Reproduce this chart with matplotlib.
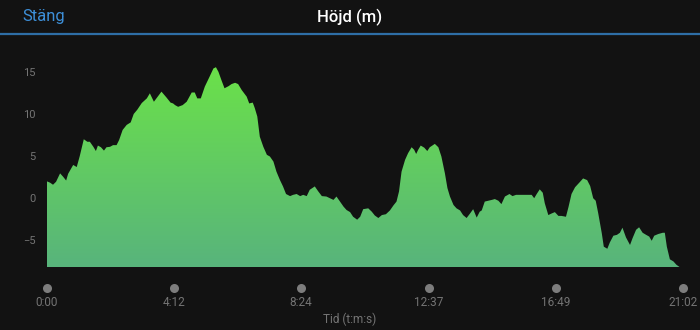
import matplotlib.pyplot as plt
import numpy as np
from matplotlib.colors import LinearSegmentedColormap
from matplotlib.lines import Line2D
import matplotlib.transforms as mtransforms

# hoehenprofil, zeit in sekunden, hoehe in metern
time_s = [0, 6, 12, 18, 26, 32, 38, 42, 52, 59, 65, 73, 80, 85, 92, 97, 101, 107,
          113, 118, 125, 131, 138, 143, 150, 158, 166, 172, 179, 188, 198, 204,
          212, 217, 227, 237, 245, 250, 254, 260, 269, 277, 287, 293, 298, 305,
          313, 323, 330, 335, 340, 346, 352, 360, 366, 373, 379, 386, 396, 401,
          408, 412, 417, 422, 429, 436, 442, 449, 455, 462, 468, 474, 482, 488,
          495, 502, 508, 515, 521, 531, 538, 545, 554, 561, 568, 574, 581, 588,
          594, 601, 607, 615, 621, 627, 637, 644, 650, 657, 664, 672, 680, 687,
          693, 698, 703, 710, 716, 723, 728, 732, 736, 741, 748, 754, 759, 769,
          776, 782, 789, 794, 799, 806, 812, 819, 825, 832, 839, 845, 852, 858,
          862, 868, 875, 882, 888, 895, 901, 908, 917, 923, 930, 938, 954, 961,
          966, 971, 977, 983, 987, 994, 1001, 1007, 1014, 1020, 1029, 1034, 1040,
          1047, 1057, 1063, 1071, 1077, 1083, 1088, 1093, 1100, 1104, 1111, 1116,
          1123, 1130, 1136, 1141, 1148, 1156, 1161, 1168, 1174, 1181, 1188, 1194,
          1199, 1204, 1212, 1221, 1225, 1229, 1235, 1242, 1248, 1255, 1262]
elev_m = [2.0, 1.85, 1.6, 1.95, 2.95, 2.55, 2.1, 2.9, 3.95, 3.7, 5.0, 7.0, 6.7, 6.7,
          6.1, 5.6, 6.25, 6.05, 5.65, 6.05, 6.1, 6.3, 6.3, 6.9, 8.1, 8.7, 9.0, 10.0,
          10.5, 11.3, 11.85, 12.45, 11.45, 11.85, 12.65, 11.95, 11.35, 11.25, 11.05,
          10.85, 11.05, 11.45, 12.55, 12.55, 11.85, 11.85, 13.25, 14.5, 15.4, 15.55,
          15.0, 14.0, 13.05, 13.3, 13.55, 13.7, 13.55, 12.85, 12.05, 11.25, 11.35,
          10.7, 9.7, 7.3, 6.1, 5.15, 4.95, 4.35, 3.15, 2.15, 1.4, 0.5, 0.25, 0.4, 0.5,
          0.25, 0.4, 0.25, 1.0, 1.4, 0.8, 0.25, 0.2, 0.0, -0.2, 0.2, -0.4, -1.0, -1.4,
          -1.65, -2.2, -2.55, -2.2, -1.3, -1.2, -1.6, -2.05, -2.35, -2.0, -1.9, -1.45,
          -0.85, -0.4, 0.8, 3.15, 4.55, 5.35, 6.05, 5.75, 5.25, 5.75, 6.25, 6.0, 5.6,
          6.05, 6.45, 6.05, 4.95, 2.95, 1.2, 0.2, -0.8, -1.2, -1.45, -2.0, -2.35, -1.8,
          -1.3, -2.3, -1.6, -1.45, -0.4, -0.3, -0.2, -0.1, -0.3, -0.7, 0.2, 0.5, 0.25,
          0.4, 0.4, 0.4, 0.4, 0.0, 0.5, 1.05, 0.65, -0.6, -2.0, -1.8, -1.65, -2.1, -2.1,
          -2.2, -1.05, 0.5, 1.3, 1.95, 2.35, 2.15, 1.45, 0.0, -0.3, -1.8, -4.15, -5.75,
          -6.0, -5.25, -4.45, -4.35, -4.1, -3.5, -4.65, -5.55, -4.75, -3.75, -3.45,
          -4.1, -4.35, -4.55, -5.05, -4.45, -4.25, -4.1, -4.1, -5.75, -7.25, -7.5,
          -7.9, -8.2, -8.2]

y_ticks = [-5, 0, 5, 10, 15]
x_ticks = [0, 252, 504, 757, 1009, 1262]
x_labels = ['0:00', '4:12', '8:24', '12:37', '16:49', '21:02']

bg = '#121212'
grau = '#747474'

plt.rcParams['font.family'] = ['Roboto', 'DejaVu Sans']

fig = plt.figure(figsize=(7, 3.3), dpi=100, facecolor=bg)
ax = fig.add_axes([0.0671, 0.19, 0.9093, 0.6306])
ax.set_facecolor(bg)

ymin, ymax = -8.2, 16.5
ax.set_xlim(0, 1262)
ax.set_ylim(ymin, ymax)

# flaeche mit farbverlauf
poly = ax.fill_between(time_s, elev_m, ymin, color='none', lw=0)
cmap = LinearSegmentedColormap.from_list('gruen', ['#58b47c', '#6ce347'])
grad = np.linspace(0, 1, 256).reshape(-1, 1)
im = ax.imshow(grad, cmap=cmap, aspect='auto', origin='lower',
               extent=[0, 1262, ymin, ymax], zorder=2)
im.set_clip_path(poly.get_paths()[0], transform=ax.transData)

for s in ax.spines.values():
    s.set_visible(False)

ax.set_yticks(y_ticks)
ax.set_xticks(x_ticks, x_labels)
ax.tick_params(axis='y', length=0, pad=8, labelsize=8, labelcolor=grau)
ax.tick_params(axis='x', length=0, pad=21, labelsize=8.5, labelcolor=grau)

# punkte unter der achse
trans = mtransforms.blended_transform_factory(ax.transData, ax.transAxes)
ax.plot(x_ticks, [-0.1] * len(x_ticks), 'o', color='#7d7d7d', ms=6.5,
        mew=0, transform=trans, clip_on=False, zorder=3)

fig.text(350 / 700, 1 - 319 / 330, 'Tid (t:m:s)', color=grau, fontsize=8.5,
         ha='center', va='center')

# kopfzeile
fig.text(22 / 700, 1 - 16 / 330, 'Stäng', color='#3d8fd8', fontsize=12,
         ha='left', va='center')
fig.text(0.5, 1 - 17 / 330, 'Höjd (m)', color='white', fontsize=12,
         fontweight='medium', ha='center', va='center')
fig.add_artist(Line2D([0, 1], [1 - 34 / 330] * 2, color='#2e6ea6', lw=1.6,
                      transform=fig.transFigure))

plt.savefig('out.png', dpi=100, facecolor=bg)
